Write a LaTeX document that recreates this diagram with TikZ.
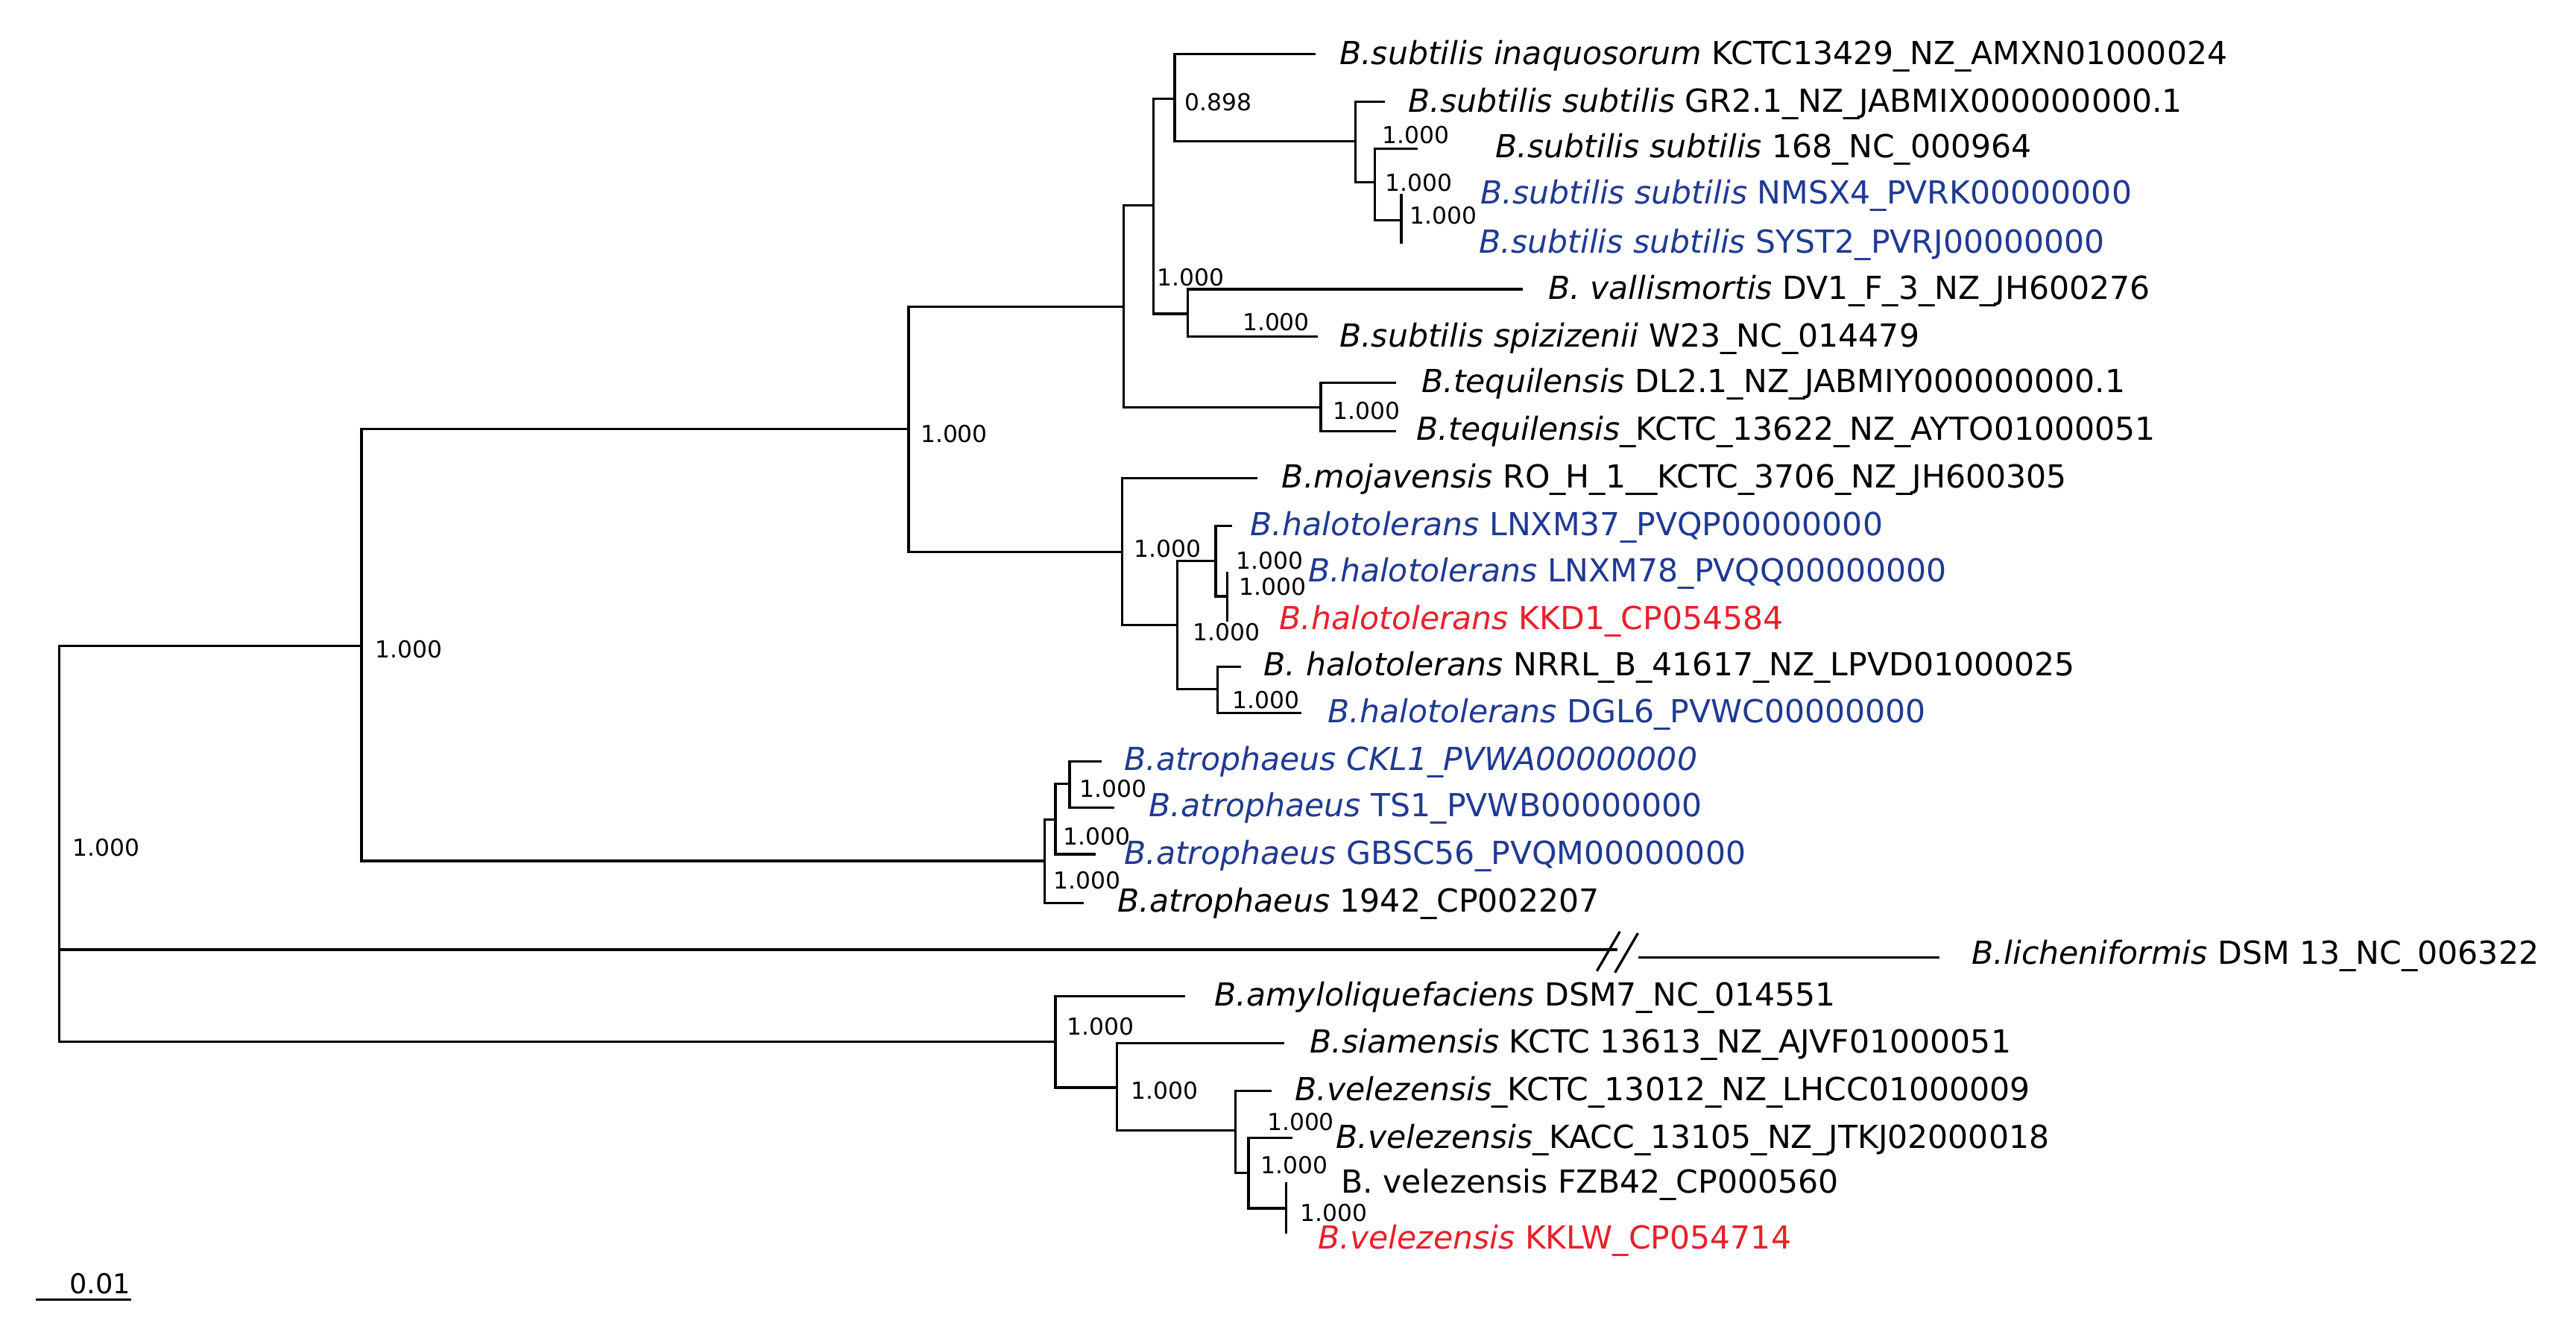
\documentclass[tikz,border=0pt]{standalone}
\usepackage{fontspec}
\setmainfont{DejaVu Sans}
\definecolor{tblue}{HTML}{1F3A93}
\definecolor{tred}{HTML}{E8202A}
\begin{document}
\begin{tikzpicture}[x=0.02cm,y=-0.02cm,
  br/.style={line width=0.85pt,line cap=rect},
  leaf/.style={anchor=west,inner sep=0pt,font=\fontsize{11pt}{13pt}\selectfont},
  sup/.style={anchor=west,inner sep=0pt,font=\fontsize{8.1pt}{9pt}\selectfont}]
\useasboundingbox (0,0) rectangle (1568,814);
% internal nodes
\coordinate (root) at (36,500);
\coordinate (A) at (220,393); \coordinate (B) at (553,261); \coordinate (C) at (684,186.7);
\coordinate (F) at (702,125); \coordinate (G) at (715,60); \coordinate (I) at (825,86);
\coordinate (J) at (837,111); \coordinate (K) at (853,134); \coordinate (H) at (723,191);
\coordinate (L) at (804,248); \coordinate (D) at (683,336); \coordinate (M) at (716.5,380.5);
\coordinate (N) at (740,341.5); \coordinate (P) at (747,363); \coordinate (O) at (741,419.6);
\coordinate (Q) at (636,524); \coordinate (R) at (642.5,499); \coordinate (S) at (651,477);
\coordinate (T) at (642.5,634); \coordinate (U) at (680,662); \coordinate (V) at (752,688);
\coordinate (W) at (760,714); \coordinate (X) at (783,735.5);
% leaves
\coordinate (inaq) at (800,33); \coordinate (gr21) at (842,62); \coordinate (s168) at (862,90.6);
\coordinate (nmsx4) at (853,118.6); \coordinate (syst2) at (853,147.6); \coordinate (vall) at (926,176);
\coordinate (spiz) at (801.5,205); \coordinate (teq1) at (849,233); \coordinate (teq2) at (849,262.5);
\coordinate (moj) at (764.6,291); \coordinate (lnxm37) at (749,320); \coordinate (lnxm78) at (747,348.7);
\coordinate (kkd1) at (747,377.6); \coordinate (nrrl) at (754.7,405.7); \coordinate (dgl6) at (791.5,434);
\coordinate (ckl1) at (670,463.4); \coordinate (ts1) at (677.5,491.7); \coordinate (gbsc) at (666,520);
\coordinate (a1942) at (659,549.5); \coordinate (amy) at (720.8,606.5); \coordinate (siam) at (781,635);
\coordinate (velk) at (773.4,664); \coordinate (kacc) at (786,692.6); \coordinate (fzb) at (783,720.4);
\coordinate (kklw) at (783,750);
\coordinate (lichA) at (36,578); \coordinate (lichB) at (984,578);
\coordinate (lichC) at (998,582.7); \coordinate (lich) at (1180,582.7);
% branches
\foreach \p/\c in {root/A,root/T,A/B,A/Q,B/C,B/D,C/F,C/L,F/G,F/H,G/inaq,G/I,I/gr21,I/J,J/s168,J/K,
  K/nmsx4,K/syst2,H/vall,H/spiz,L/teq1,L/teq2,D/moj,D/M,M/N,M/O,N/lnxm37,N/P,P/lnxm78,P/kkd1,
  O/nrrl,O/dgl6,Q/R,Q/a1942,R/S,R/gbsc,S/ckl1,S/ts1,T/amy,T/U,U/siam,U/V,V/velk,V/W,W/kacc,W/X,
  X/fzb,X/kklw}
  \draw[br] (\p) |- (\c);
\draw[br] (root) |- (lichA) -- (lichB);
\draw[br] (lichC) -- (lich);
\draw[line width=0.85pt] (972,591) -- (986,567) (983,592) -- (997,568);
% leaf labels
\node[leaf] (t1) at (815,34) {\textit{B.subtilis inaquosorum} KCTC13429\_NZ\_AMXN01000024};
\node[leaf] (t2) at (857,63) {\textit{B.subtilis subtilis} GR2.1\_NZ\_JABMIX000000000.1};
\node[leaf] (t3) at (910,91) {\textit{B.subtilis subtilis} 168\_NC\_000964};
\node[leaf,text=tblue] (t4) at (901,119) {\textit{B.subtilis subtilis} NMSX4\_PVRK00000000};
\node[leaf,text=tblue] (t5) at (900,149) {\textit{B.subtilis subtilis} SYST2\_PVRJ00000000};
\node[leaf] (t6) at (942,177) {\textit{B. vallismortis} DV1\_F\_3\_NZ\_JH600276};
\node[leaf] (t7) at (815,206) {\textit{B.subtilis spizizenii} W23\_NC\_014479};
\node[leaf] (t8) at (865,234) {\textit{B.tequilensis} DL2.1\_NZ\_JABMIY000000000.1};
\node[leaf] (t9) at (862,263) {\textit{B.tequilensis}\_KCTC\_13622\_NZ\_AYTO01000051};
\node[leaf] (t10) at (780,292) {\textit{B.mojavensis} RO\_H\_1\_\_KCTC\_3706\_NZ\_JH600305};
\node[leaf,text=tblue] (t11) at (760.7,321) {\textit{B.halotolerans} LNXM37\_PVQP00000000};
\node[leaf,text=tblue] (t12) at (796,349) {\textit{B.halotolerans} LNXM78\_PVQQ00000000};
\node[leaf,text=tred] (t13) at (778.5,378) {\textit{B.halotolerans} KKD1\_CP054584};
\node[leaf] (t14) at (769,406) {\textit{B. halotolerans} NRRL\_B\_41617\_NZ\_LPVD01000025};
\node[leaf,text=tblue] (t15) at (808,435) {\textit{B.halotolerans} DGL6\_PVWC00000000};
\node[leaf,text=tblue] (t16) at (684,464) {\textit{B.atrophaeus CKL1\_PVWA00000000}};
\node[leaf,text=tblue] (t17) at (699,492) {\textit{B.atrophaeus} TS1\_PVWB00000000};
\node[leaf,text=tblue] (t18) at (684,521) {\textit{B.atrophaeus} GBSC56\_PVQM00000000};
\node[leaf] (t19) at (680,550) {\textit{B.atrophaeus} 1942\_CP002207};
\node[leaf] (t20) at (1200,582) {\textit{B.licheniformis} DSM 13\_NC\_006322};
\node[leaf] (t21) at (739,607) {\textit{B.amyloliquefaciens} DSM7\_NC\_014551};
\node[leaf] (t22) at (797,636) {\textit{B.siamensis} KCTC 13613\_NZ\_AJVF01000051};
\node[leaf] (t23) at (788,665) {\textit{B.velezensis}\_KCTC\_13012\_NZ\_LHCC01000009};
\node[leaf] (t24) at (813,694) {\textit{B.velezensis}\_KACC\_13105\_NZ\_JTKJ02000018};
\node[leaf] (t25) at (816,721) {B. velezensis FZB42\_CP000560};
\node[leaf,text=tred] (t26) at (802,755) {\textit{B.velezensis} KKLW\_CP054714};
% support values
\foreach \x/\y/\v in {721/62/0.898,704/169/1.000,756/196/1.000,811/250/1.000,841/82/1.000,
  843/111/1.000,858/131/1.000,560/264/1.000,228/395/1.000,44/516/1.000,690/334/1.000,
  752/341/1.000,754/357/1.000,726/385/1.000,750/426/1.000,657/480/1.000,647/509/1.000,
  641/536/1.000,649/625/1.000,688/664/1.000,771/683/1.000,767/709/1.000,791/738/1.000}
  \node[sup] at (\x,\y) {\v};
% scale bar
\coordinate (sb1) at (22,791); \coordinate (sb2) at (80,791);
\draw[line width=0.85pt] (sb1) -- (sb2);
\node[anchor=south,inner sep=0pt,font=\fontsize{9.5pt}{11pt}\selectfont] (sbl) at (61,788) {0.01};
\end{tikzpicture}
\end{document}
